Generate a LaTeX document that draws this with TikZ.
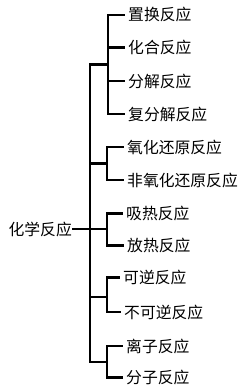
\documentclass[tikz,border=0pt]{standalone}
\usepackage{fontspec}
\newfontfamily\cjk{Noto Sans CJK SC}
\begin{document}
\begin{tikzpicture}[x=1pt,y=-1pt,
  leaf/.style={anchor=west,inner xsep=4pt,inner ysep=0pt,font=\cjk\fontsize{15.8}{16}\selectfont},
  conn/.style={line width=2.2pt,line cap=rect}]
\useasboundingbox (0,0) rectangle (241,387);
% root
\node[leaf,anchor=east,inner xsep=1pt] (root) at (73,229) {化学反应};
% junctions on the main line
\coordinate (mtop) at (90,64.5);
\coordinate (mbot) at (90,362);
% group brackets
\coordinate (g1) at (108,64.5);
\coordinate (g2) at (107,163.5);
\coordinate (g3) at (107,229);
\coordinate (g4) at (107,297);
\coordinate (g5) at (107,362);
% leaves
\node[leaf] (a1) at (124,14.7) {置换反应};
\node[leaf] (a2) at (124,47.5) {化合反应};
\node[leaf] (a3) at (124,81) {分解反应};
\node[leaf] (a4) at (124,114) {复分解反应};
\node[leaf] (b1) at (123,147) {氧化还原反应};
\node[leaf] (b2) at (123,180) {非氧化还原反应};
\node[leaf] (c1) at (122,213.5) {吸热反应};
\node[leaf] (c2) at (123,245.5) {放热反应};
\node[leaf] (d1) at (119,277.5) {可逆反应};
\node[leaf] (d2) at (120,312) {不可逆反应};
\node[leaf] (e1) at (122,346) {离子反应};
\node[leaf] (e2) at (122,377.5) {分子反应};
% main trunk
\draw[conn] (mtop) -- (mbot);
\draw[conn] (root.east) -- (g3);
\draw[conn] (mtop) -- (g1);
\draw[conn] (g2 -| mtop) -- (g2);
\draw[conn] (g4 -| mtop) -- (g4);
\draw[conn] (mbot) -- (g5);
% group 1
\draw[conn] (a1.west -| g1) -- (a4.west -| g1);
\foreach \n in {a1,a2,a3,a4} \draw[conn] (\n.west -| g1) -- (\n.west);
% group 2
\draw[conn] (b1.west -| g2) -- (b2.west -| g2);
\foreach \n in {b1,b2} \draw[conn] (\n.west -| g2) -- (\n.west);
% group 3
\draw[conn] (c1.west -| g3) -- (c2.west -| g3);
\foreach \n in {c1,c2} \draw[conn] (\n.west -| g3) -- (\n.west);
% group 4
\draw[conn] (d1.west -| g4) -- (d2.west -| g4);
\foreach \n in {d1,d2} \draw[conn] (\n.west -| g4) -- (\n.west);
% group 5
\draw[conn] (e1.west -| g5) -- (e2.west -| g5);
\foreach \n in {e1,e2} \draw[conn] (\n.west -| g5) -- (\n.west);
\end{tikzpicture}
\end{document}
